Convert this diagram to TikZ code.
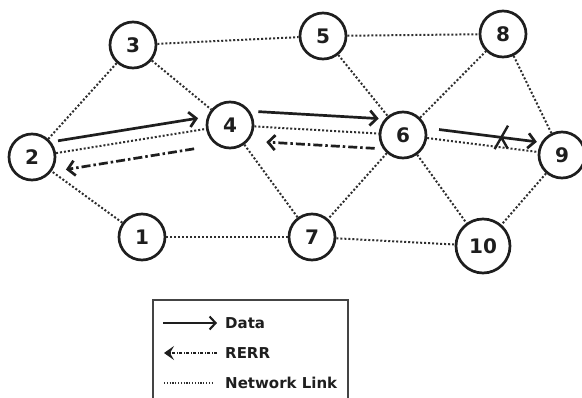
\documentclass[tikz,border=0pt]{standalone}
\usepackage{fontspec}
\setmainfont{DejaVu Sans}
\usepackage{xcolor}
\usepackage{tikz}
\usetikzlibrary{arrows.meta,shapes.misc}
\definecolor{ink}{HTML}{1E1E1E}
\definecolor{dots}{HTML}{2E2E2E}
\definecolor{frame}{HTML}{444444}
\tikzset{
  host/.style={circle, draw=ink, line width=2.7pt, minimum size=46pt, inner sep=0pt,
    text=ink, font=\fontsize{20}{20}\selectfont\bfseries},
  bighost/.style={host, minimum size=54pt},
  link/.style={draw=dots, line width=2pt, dash pattern=on 2pt off 2pt},
  data/.style={-{Straight Barb[length=7pt,width=15pt]}, line width=2.7pt, draw=ink},
  rerr/.style={-{Straight Barb[length=7pt,width=15pt]}, line width=2.7pt, draw=ink,
    dash pattern=on 9pt off 3pt on 2.5pt off 3pt},
  legtext/.style={anchor=west, inner sep=0pt, text=ink, font=\fontsize{15}{15}\selectfont\bfseries},
  broken/.style={cross out, draw=ink, line width=2.4pt, minimum width=11pt, minimum height=21pt, inner sep=0pt}
}
\begin{document}
\begin{tikzpicture}[x=1pt,y=-1pt]
  \useasboundingbox (0,0) rectangle (582,397);

  % hosts
  \node[host] (n1) at (142,237) {1};
  \node[host] (n2) at (32,157) {2};
  \node[host] (n3) at (133,45) {3};
  \node[host] (n4) at (230,125) {4};
  \node[host] (n5) at (323,36) {5};
  \node[host] (n6) at (403,135) {6};
  \node[host] (n7) at (312,237) {7};
  \node[host] (n8) at (503,34) {8};
  \node[host] (n9) at (562,155) {9};
  \node[bighost] (n10) at (483,246) {10};

  % network links
  \foreach \a/\b in {3/5,5/8,2/3,3/4,2/4,1/2,1/7,4/7,4/6,5/6,6/8,6/7,6/9,6/10,8/9,9/10,7/10}
    \draw[link] (n\a) -- (n\b);

  % data packets
  \draw[data, transform canvas={yshift=12pt}, shorten <=2pt, shorten >=8pt] (n2) -- (n4);
  \draw[data, transform canvas={yshift=15pt}, shorten <=4pt] (n4) -- (n6);
  \draw[data, transform canvas={yshift=10pt}, shorten <=12pt, shorten >=1pt] (n6) -- (n9)
    node[broken, pos=0.67] (brk) {};

  % route errors
  \draw[rerr, transform canvas={yshift=-15pt}, shorten <=4pt, shorten >=12pt] (n6) -- (n4);
  \draw[rerr, transform canvas={yshift=-18pt}, shorten <=12pt, shorten >=10pt] (n4) -- (n2);

  % legend
  \draw[frame, line width=2.2pt] (153,420) -- (153,300) -- (348,300) -- (348,420);
  \node[legtext] (ldata) at (225,323) {Data};
  \node[legtext] (lrerr) at (225,353) {RERR};
  \node[legtext] (llink) at (225,383) {Network Link};
  \draw[-{Straight Barb[length=6pt,width=13pt]}, line width=2.1pt, draw=ink]
    ([xshift=-62pt]ldata.west) -- ([xshift=-8pt]ldata.west);
  \draw[-{Stealth[length=10pt,width=14pt,inset=4pt]}, line width=1.6pt, draw=ink,
    dash pattern=on 3pt off 1.5pt on 1pt off 1.5pt]
    ([xshift=-8pt]lrerr.west) -- ([xshift=-61pt]lrerr.west);
  \draw[draw=dots, line width=1.4pt, dash pattern=on 1.2pt off 1.6pt]
    ([xshift=-61pt]llink.west) -- ([xshift=-12pt]llink.west);
\end{tikzpicture}
\end{document}
